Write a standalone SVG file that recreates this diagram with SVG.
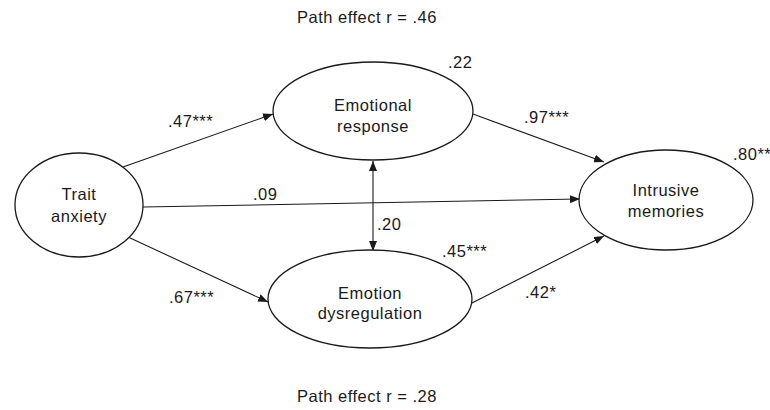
<svg xmlns="http://www.w3.org/2000/svg" width="770" height="410" viewBox="0 0 770 410">
<style>
text{font-family:"Liberation Sans",Arial,sans-serif;font-size:16.5px;letter-spacing:0.5px;fill:#1a1a1a}
.c{text-anchor:middle}
ellipse{fill:#fff;stroke:#1a1a1a;stroke-width:1.3}
.e line{stroke:#1a1a1a;stroke-width:1.1}
</style>
<defs>
<marker id="ah" viewBox="0 0 10 8" refX="10" refY="4" markerWidth="10" markerHeight="8" markerUnits="userSpaceOnUse" orient="auto-start-reverse">
<path d="M0,0 L10,4 L0,8 z" fill="#1a1a1a"/>
</marker>
</defs>
<rect width="770" height="410" fill="#fff"/>
<g id="connectors" class="e">
<line x1="123" y1="167" x2="273" y2="114" marker-end="url(#ah)"/>
<line x1="128" y1="237" x2="268" y2="302" marker-end="url(#ah)"/>
<line x1="143" y1="207" x2="580" y2="199" marker-end="url(#ah)"/>
<line x1="473" y1="114" x2="604" y2="162" marker-end="url(#ah)"/>
<line x1="472" y1="303" x2="604" y2="236" marker-end="url(#ah)"/>
<line x1="373" y1="161" x2="373" y2="251" marker-start="url(#ah)" marker-end="url(#ah)"/>
</g>
<g id="trait">
<ellipse cx="79" cy="205" rx="64" ry="52"/>
<text class="c" x="79" y="200">Trait</text>
<text class="c" x="79" y="222">anxiety</text>
</g>
<g id="emotional-response">
<ellipse cx="373" cy="111" rx="100" ry="49"/>
<text class="c" x="373" y="111">Emotional</text>
<text class="c" x="373" y="132">response</text>
</g>
<g id="emotion-dysregulation">
<ellipse cx="370" cy="299" rx="102" ry="49"/>
<text class="c" x="370" y="299">Emotion</text>
<text class="c" x="370" y="319">dysregulation</text>
</g>
<g id="intrusive-memories">
<ellipse cx="666" cy="200" rx="87" ry="50"/>
<text class="c" x="666" y="196">Intrusive</text>
<text class="c" x="666" y="217">memories</text>
</g>
<g id="labels">
<text x="297" y="23">Path effect r = .46</text>
<text x="297" y="402">Path effect r = .28</text>
<text x="168" y="127">.47***</text>
<text x="169" y="303">.67***</text>
<text x="524" y="123">.97***</text>
<text x="525" y="298">.42*</text>
<text x="733" y="160">.80**</text>
<text x="448" y="68">.22</text>
<text x="442" y="257">.45***</text>
<text x="377" y="230">.20</text>
<text x="253" y="200">.09</text>
</g>
</svg>
